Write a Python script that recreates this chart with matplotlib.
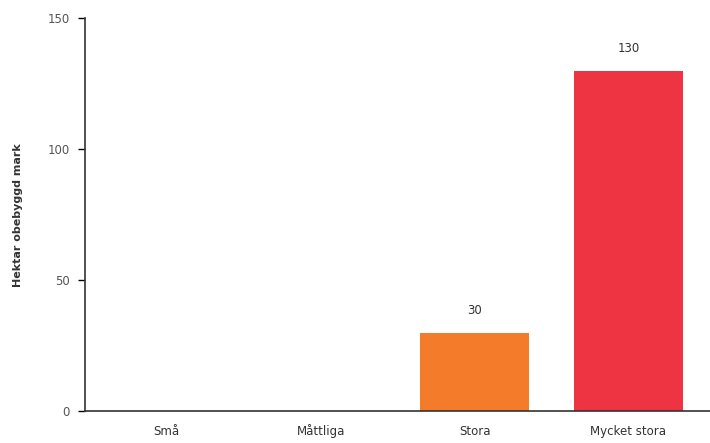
import matplotlib.pyplot as plt

categories = ["Små", "Måttliga", "Stora", "Mycket stora"]
values = [0, 0, 30, 130]
colors = ["#F47B2A", "#F47B2A", "#F47B2A", "#EE3443"]
value_labels = ["", "", "30", "130"]

fig = plt.figure(figsize=(7.1, 4.43), dpi=100)
ax = fig.add_axes([0.12, 0.072, 0.88, 0.887])

x = list(range(len(categories)))
ax.bar(x, values, width=0.71, color=colors)

# value labels above the bars
for xi, v, lab in zip(x, values, value_labels):
    if lab:
        ax.text(xi, v + 6, lab, ha="center", va="bottom", fontsize=8.5, color="#333333")

ax.set_xlim(-0.53, 3.53)
ax.set_ylim(0, 150)
ax.set_yticks([0, 50, 100, 150])
ax.set_xticks(x)
ax.set_xticklabels(categories, fontsize=8.5, color="#333333")
for lbl in ax.get_xticklabels():
    lbl.set_verticalalignment("baseline")
ax.tick_params(axis="x", length=0, pad=17)
ax.tick_params(axis="y", length=5, width=1, labelsize=8.5, labelcolor="#555555", direction="out", pad=6)
ax.set_ylabel("Hektar obebyggd mark", fontsize=8, fontweight="bold", color="#333333", labelpad=18)

for s in ["top", "right"]:
    ax.spines[s].set_visible(False)
ax.spines["left"].set_color("#333333")
ax.spines["bottom"].set_color("#333333")
ax.spines["left"].set_linewidth(1.2)
ax.spines["bottom"].set_linewidth(1.2)

fig.savefig("out.png", dpi=100)
